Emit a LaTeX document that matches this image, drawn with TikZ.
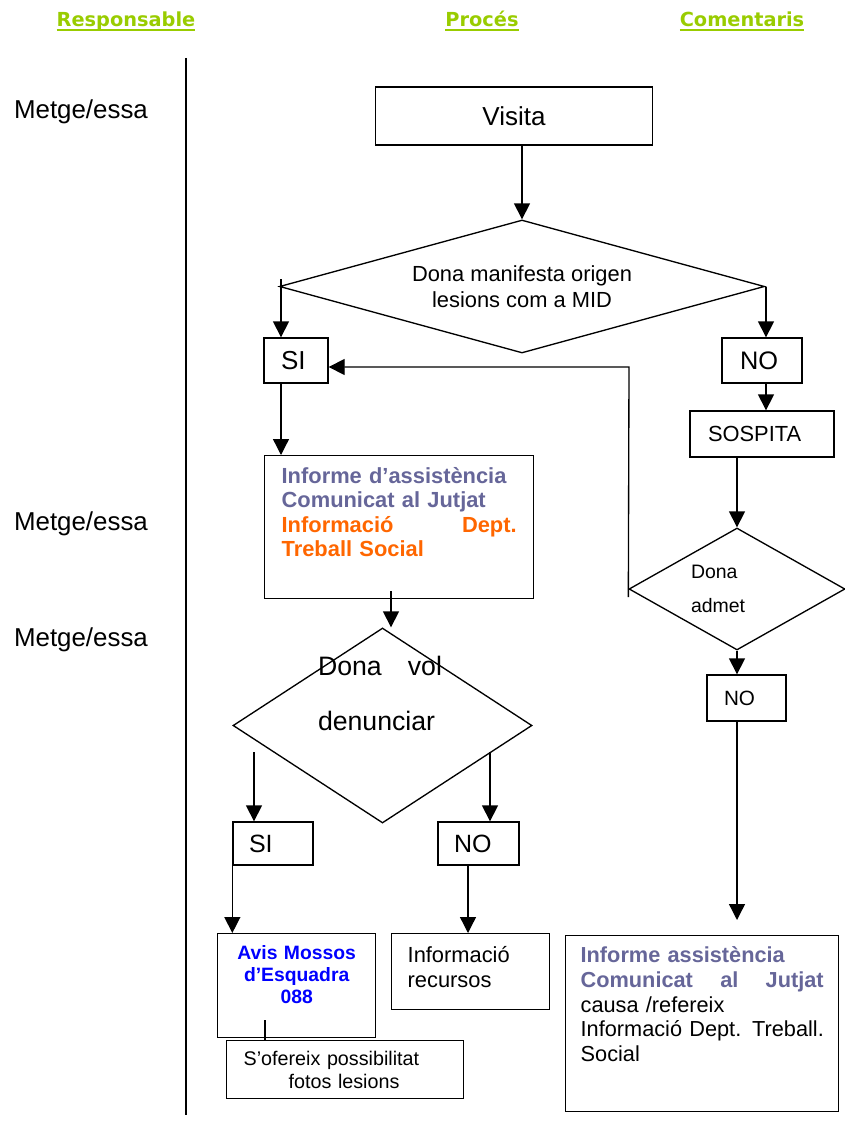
\documentclass[tikz,border=0pt]{standalone}
\usepackage{fontspec}
\setmainfont{Liberation Sans}
\newfontfamily\headfont{DejaVu Sans}
\usepackage{xcolor}
\usepackage{tikz}
\usetikzlibrary{arrows.meta, shapes.geometric}
\definecolor{headgreen}{HTML}{99CC00}
\definecolor{slateblue}{HTML}{666699}
\definecolor{deptorange}{HTML}{FF6600}
\definecolor{avisblue}{HTML}{0000FF}
\newlength\unitpx
\setlength\unitpx{0.75pt}
\newcommand\fsz[2]{\fontsize{#1}{#2}\selectfont}
\newcommand\ulhead[1]{\setbox0\hbox{#1}\rlap{\rule[-3pt]{\wd0}{1.2pt}}\box0}
\tikzset{
  hdr/.style={anchor=base, text=headgreen, font=\headfont\bfseries\fsz{14.5}{17}},
  resp/.style={anchor=base west, font=\fsz{19.4}{23}},
  box/.style={draw, rectangle, inner sep=0pt},
  lbox/.style 2 args={box, align=left, inner xsep=#1\unitpx, text width=#2\unitpx},
  tbox/.style n args={4}{box, anchor=north west, inner xsep=#1\unitpx, inner ysep=0pt,
    text width=#2\unitpx, text height=#3\unitpx, text depth=#4\unitpx},
  cond/.style={draw, diamond, inner sep=0pt},
  arr/.style={-{Triangle[width=12pt,length=12pt]}}
}

\begin{document}
\begin{tikzpicture}[x=\unitpx, y=-\unitpx, line width=1pt]
        \useasboundingbox (0,0) rectangle (844,1127);

        \node[hdr] (hresp) at (126,27) {\ulhead{Responsable}};
        \node[hdr] (hproc) at (482,27) {\ulhead{Procés}};
        \node[hdr] (hcom) at (742,27) {\ulhead{Comentaris}};

        \coordinate (vtop) at (186,58);
        \coordinate (vbot) at (186,1115);
        \draw (vtop) -- (vbot);

        \node[resp] (resp1) at (9,119) {Metge/essa};
        \node[resp] (resp2) at (9,530) {Metge/essa};
        \node[resp] (resp3) at (9,646) {Metge/essa};

        \node[box, minimum width=277\unitpx, minimum height=58\unitpx, font=\fsz{19.5}{23}] (visita) at (514,116) {Visita};
        \node[cond, minimum width=485\unitpx, minimum height=133\unitpx, aspect=3.6, align=center, font=\fsz{16.4}{19.5}] (d1) at (522,286.5) {Dona manifesta origen\\lesions com a MID};
        \node[lbox={17}{30}, minimum height=45\unitpx, font=\fsz{19.5}{23}] (si1) at (296,360.5) {SI};
        \node[lbox={18}{44}, minimum height=45\unitpx, font=\fsz{19}{23}] (no1) at (762,360.5) {NO};
        \node[lbox={18}{108}, minimum height=46\unitpx, font=\fsz{16.4}{19}] (sospita) at (762,434) {SOSPITA};
        \node[cond, minimum width=216\unitpx, minimum height=122\unitpx, aspect=1.77, align=left, text width=92\unitpx, font=\fsz{14.6}{25.5}] (d2) at (737,589) {Dona\\admet};
        \node[lbox={17}{45}, minimum height=46\unitpx, font=\fsz{15.5}{19}] (no2) at (746.5,698) {NO};

        \node[tbox={17}{235}{28}{115}, align=left, font=\bfseries\fsz{16.4}{18.2}] (info1) at (264,455) {\textcolor{slateblue}{Informe d’assistència}\\
          \textcolor{slateblue}{Comunicat al Jutjat}\\
          \textcolor{deptorange}{Informació\hfill Dept.}\\
          \textcolor{deptorange}{Treball Social}};
        \node[cond, minimum width=299\unitpx, minimum height=195\unitpx, aspect=1.53] (d3) at (382.5,725.5) {};
        \node[anchor=base, align=left, text width=124\unitpx, font=\fsz{20}{41.25}] (d3text) at (380,675) {Dona\hfill vol\\denunciar};
        \node[lbox={16}{48}, minimum height=43\unitpx, font=\fsz{18.75}{22}] (si2) at (273,843.5) {SI};
        \node[lbox={16}{49}, minimum height=43\unitpx, font=\fsz{18.75}{22}] (no3) at (478.5,843.5) {NO};

        \node[tbox={8}{142}{26}{78}, align=center, text=avisblue, font=\bfseries\fsz{14.5}{16.5}] (avis) at (217,933) {Avis Mossos\\d’Esquadra\\088};
        \node[tbox={16}{126}{29}{47}, align=left, font=\fsz{16.4}{18.5}] (recursos) at (391,933) {Informació\\recursos};
        \node[tbox={17}{203}{25}{33}, align=left, font=\fsz{14.8}{17.25}] (ofereix) at (226,1040) {S’ofereix possibilitat\\\hspace*{45\unitpx}fotos lesions};
        \node[tbox={15}{243}{27}{149}, align=left, font=\fsz{16.3}{18.5}] (informe2) at (565,935) {\textcolor{slateblue}{\bfseries Informe assistència}\\
          \textcolor{slateblue}{\bfseries Comunicat\hfill al\hfill Jutjat}\\
          causa /refereix\\
          \mbox{Informació Dept. Treball.}\\
          Social};

        \coordinate (c1) at (281,279);
        \coordinate (c2) at (766,286.5);
        \coordinate (c3) at (629,367);
        \coordinate (c4) at (391,591);
        \coordinate (c5) at (254,752);
        \coordinate (c6) at (490,752);
        \coordinate (c7) at (468,865);
        \coordinate (c8) at (737,920);
        \coordinate (c9) at (265,1020);

        \foreach \from/\to in {
          d1.north |- visita.south/d1.north,
          c1/c1 |- si1.north, c2/c2 |- no1.north,
          c2 |- no1.south/c2 |- sospita.north,
          d2.north |- sospita.south/d2.north,
          c1 |- si1.south/c1 |- info1.north,
          c4/c4 |- d3.north,
          c5/c5 |- si2.north, c6/c6 |- no3.north,
          si2.south west/si2.south west |- avis.north,
          c7/c7 |- recursos.north,
          d2.south/d2.south |- no2.north,
          d2.south |- no2.south/c8}
        \draw[arr] (\from) -- (\to);

        \draw[arr] ([yshift=-6pt]d2.west) -- (c3) -- (c3 -| si1.east);
        \draw (c9) -- (c9 |- ofereix.north);
      \end{tikzpicture}
\end{document}
